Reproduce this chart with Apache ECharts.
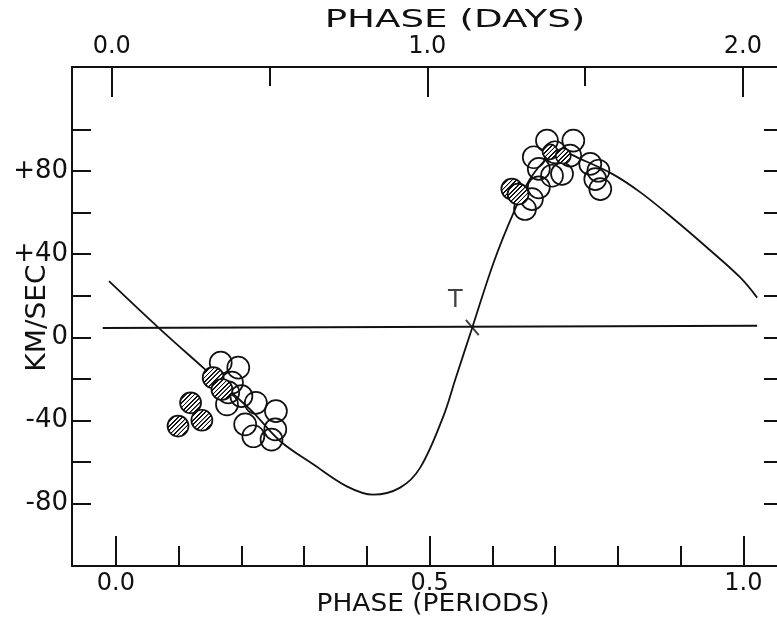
<!DOCTYPE html>
<html>
<head>
<meta charset="utf-8">
<script src="https://cdn.jsdelivr.net/npm/echarts@6/dist/echarts.min.js"></script>
<style>html,body{margin:0;padding:0;background:#fff}#c{width:777px;height:621px}</style>
</head>
<body>
<div id="c"></div>
<script>
// ---- data ----
const curvePhase = [-0.011, 0.069, 0.139, 0.214, 0.262, 0.315, 0.368, 0.410, 0.453, 0.485, 0.522, 0.541, 0.568, 0.602, 0.634, 0.660, 0.687, 0.713, 0.740, 0.791, 0.836, 0.889, 0.942, 0.995, 1.022];
const curveVel   = [27.0, 4.3, -14.6, -34.7, -50.0, -61.2, -71.7, -75.7, -72.3, -62.7, -37.9, -20.2, 4.7, 36.0, 60.1, 76.1, 85.8, 89.0, 85.8, 78.6, 69.7, 56.9, 43.2, 28.8, 19.1];

const gammaPhase = [-0.021, 1.022];
const gammaVel   = [4.5, 5.5];

const openPhase = [0.167, 0.195, 0.185, 0.200, 0.177, 0.223, 0.255, 0.206, 0.219, 0.254, 0.248, 0.179,
                   0.687, 0.729, 0.666, 0.700, 0.724, 0.674, 0.695, 0.711, 0.756, 0.769, 0.764, 0.772, 0.674, 0.663, 0.652];
const openVel   = [-12.2, -14.6, -21.8, -28.3, -32.3, -31.5, -35.5, -41.9, -47.6, -44.3, -49.2, -26.5,
                   94.6, 94.6, 86.6, 89.0, 87.4, 81.0, 77.7, 78.6, 83.4, 80.1, 76.1, 71.3, 72.1, 66.5, 61.7];

const filledPhase = [0.155, 0.169, 0.119, 0.099, 0.137, 0.631, 0.641, 0.692, 0.713];
const filledVel   = [-19.4, -25.1, -31.5, -42.7, -39.9, 71.3, 68.9, 89.2, 87.2];
const filledSize  = [21, 21, 21, 21, 21, 21, 21, 15, 15];

const conjPhase = [0.568];
const conjVel   = [4.7];
const conjLabel = ['T'];

const periodTicks  = [0, 0.1, 0.2, 0.3, 0.4, 0.5, 0.6, 0.7, 0.8, 0.9, 1.0];
const periodLabels = [0, 0.5, 1.0];
const dayMinorTicks = [0.5, 1.5];
const dayLabels = [0, 1.0, 2.0];
const velTicks  = [-80, -60, -40, -20, 0, 20, 40, 60, 80, 100];
const velLabels = [-80, -40, 0, 40, 80];

// ---- build ----
const ink = '#111';
const zip = (a, b) => a.map((v, i) => [v, b[i]]);

// Hatch pattern. Symbol paths are built at unit size and scaled by size/2,
// so the pattern is counter-scaled to keep ~5 px line spacing on screen.
function makeHatch(symSize) {
  const k = symSize / 2;
  const S = 40;
  const c = document.createElement('canvas');
  c.width = S; c.height = S;
  const g = c.getContext('2d');
  g.fillStyle = '#fff'; g.fillRect(0, 0, S, S);
  g.strokeStyle = '#111'; g.lineWidth = S * 0.28;
  g.beginPath();
  g.moveTo(-S * 0.2, S * 1.2); g.lineTo(S * 1.2, -S * 0.2);
  g.moveTo(-S * 0.5, S * 0.5); g.lineTo(S * 0.5, -S * 0.5);
  g.moveTo(S * 0.5, S * 1.5); g.lineTo(S * 1.5, S * 0.5);
  g.stroke();
  const s = 4.4 / (S * k);
  return { image: c, repeat: 'repeat', scaleX: s, scaleY: s };
}

const fmt1 = v => v.toFixed(1);
const fmtV = v => (v > 0 ? '+' + v : String(v));
const font = 'DejaVu Sans';

const chart = echarts.init(document.getElementById('c'), null, { renderer: 'canvas' });
chart.setOption({
  backgroundColor: '#fff',
  animation: false,
  grid: { left: 72, right: -4, top: 67, bottom: 55, containLabel: false, outerBoundsMode: 'none' },
  xAxis: [
    { type: 'value', position: 'bottom', min: -0.07, max: 1.06,
      axisLine: { show: true, onZero: false, lineStyle: { color: ink, width: 2 } },
      axisTick: { show: true, inside: true, length: 20, customValues: periodTicks, lineStyle: { color: ink, width: 2 } },
      axisLabel: { show: true, customValues: periodLabels, formatter: fmt1, color: ink, fontSize: 24, fontFamily: font, margin: 6 },
      splitLine: { show: false } },
    { type: 'value', position: 'bottom', min: -0.07, max: 1.06,
      axisLine: { show: false, onZero: false },
      axisTick: { show: true, inside: true, length: 30, customValues: periodLabels, lineStyle: { color: ink, width: 2 } },
      axisLabel: { show: false }, splitLine: { show: false } },
    { type: 'value', position: 'top', min: -0.126, max: 2.121,
      axisLine: { show: true, onZero: false, lineStyle: { color: ink, width: 2 } },
      axisTick: { show: true, inside: true, length: 19, customValues: dayMinorTicks, lineStyle: { color: ink, width: 2 } },
      axisLabel: { show: true, customValues: dayLabels, formatter: fmt1, color: ink, fontSize: 24, fontFamily: font, margin: 8 },
      splitLine: { show: false } },
    { type: 'value', position: 'top', min: -0.126, max: 2.121,
      axisLine: { show: false, onZero: false },
      axisTick: { show: true, inside: true, length: 30, customValues: dayLabels, lineStyle: { color: ink, width: 2 } },
      axisLabel: { show: false }, splitLine: { show: false } }
  ],
  yAxis: [
    { type: 'value', position: 'left', min: -110, max: 130,
      axisLine: { show: true, onZero: false, lineStyle: { color: ink, width: 2 } },
      axisTick: { show: true, inside: true, length: 19, customValues: velTicks, lineStyle: { color: ink, width: 2 } },
      axisLabel: { show: true, customValues: velLabels, formatter: fmtV, color: ink, fontSize: 26, fontFamily: font, margin: 4 },
      splitLine: { show: false } },
    { type: 'value', position: 'right', min: -110, max: 130,
      axisLine: { show: true, onZero: false, lineStyle: { color: ink, width: 2 } },
      axisTick: { show: true, inside: true, length: 17, customValues: velTicks, lineStyle: { color: ink, width: 2 } },
      axisLabel: { show: false }, splitLine: { show: false } }
  ],
  series: [
    { type: 'line', xAxisIndex: 0, yAxisIndex: 0, data: zip(curvePhase, curveVel), smooth: 0.35,
      symbol: 'none', lineStyle: { color: ink, width: 1.8 }, z: 2 },
    { type: 'line', xAxisIndex: 0, yAxisIndex: 0, data: zip(gammaPhase, gammaVel),
      symbol: 'none', lineStyle: { color: ink, width: 2 }, z: 2 },
    { type: 'scatter', xAxisIndex: 0, yAxisIndex: 0, data: zip(openPhase, openVel), symbol: 'circle', symbolSize: 22,
      itemStyle: { color: 'rgba(0,0,0,0)', borderColor: ink, borderWidth: 1.7, opacity: 1 }, z: 3 },
    { type: 'scatter', xAxisIndex: 0, yAxisIndex: 0,
      data: filledPhase.map((p, i) => ({ value: [p, filledVel[i]], symbolSize: filledSize[i],
        itemStyle: { color: makeHatch(filledSize[i]) } })), symbol: 'circle',
      itemStyle: { borderColor: ink, borderWidth: 1.7, opacity: 1 }, z: 4 },
    { type: 'scatter', xAxisIndex: 0, yAxisIndex: 0,
      data: conjPhase.map((p, i) => ({ value: [p, conjVel[i]], name: conjLabel[i] })),
      symbol: 'rect', symbolSize: [2, 20], symbolRotate: 40,
      itemStyle: { color: ink },
      label: { show: true, formatter: '{b}', position: 'inside', offset: [-17, -27], color: ink, fontSize: 24, fontFamily: font },
      z: 5 }
  ],
  graphic: [
    { type: 'text', x: 455, y: 21, scaleX: 1.55, style: { text: 'PHASE (DAYS)', fontSize: 24, fontFamily: font, fill: ink, align: 'center', verticalAlign: 'middle' } },
    { type: 'text', x: 433, y: 605, scaleX: 1.1, style: { text: 'PHASE (PERIODS)', fontSize: 24, fontFamily: font, fill: ink, align: 'center', verticalAlign: 'middle' } },
    { type: 'text', x: 38, y: 318, rotation: Math.PI / 2, scaleX: 1.08, style: { text: 'KM/SEC', fontSize: 26, fontFamily: font, fill: ink, align: 'center', verticalAlign: 'middle' } }
  ]
});
</script>
</body>
</html>
